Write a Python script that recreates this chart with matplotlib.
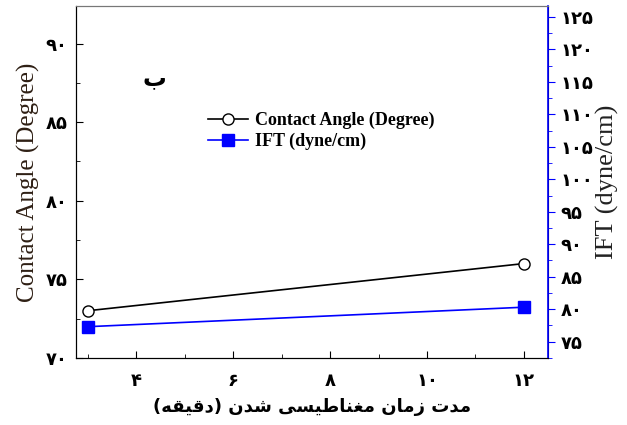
import matplotlib
matplotlib.use("Agg")
import matplotlib.pyplot as plt
from matplotlib.ticker import FixedLocator, FuncFormatter, MultipleLocator

# Data
minutes = [3, 12]
contact_angle = [73.0, 76.0]
ift = [77.3, 80.3]

x_ticks = [4, 6, 8, 10, 12]
left_ticks = [70, 75, 80, 85, 90]
right_ticks = [75, 80, 85, 90, 95, 100, 105, 110, 115, 120, 125]

# Persian label, pre-shaped (presentation forms) in visual order
x_label = ("(\uFEEA\uFED8\uFEF4\uFED7\uFEA9) \uFEE5\uFEAA\uFEB7 "
           "\uFEF0\uFEB4\uFEF4\uFEC3\uFE8E\uFEE8\uFED0\uFEE3 "
           "\uFEE5\uFE8E\uFEE3\uFEAF \uFE95\uFEAA\uFEE3")
panel_letter = "\uFE8F"
legend_labels = ["Contact Angle (Degree)", "IFT (dyne/cm)"]

FA_DIGITS = str.maketrans("0123456789", "۰۱۲۳۴۵۶۷۸۹")


def fa(v, _pos=None):
    return str(int(round(v))).translate(FA_DIGITS)


fig = plt.figure(figsize=(6.27, 4.25), dpi=100)
ax = fig.add_axes([0.121, 0.158, 0.753, 0.828])
ax2 = ax.twinx()

l1, = ax.plot(minutes, contact_angle, "-", color="black", lw=1.2,
              marker="o", ms=8, mfc="white", mec="black", mew=1.0)
l2, = ax2.plot(minutes, ift, "-", color="blue", lw=1.2,
               marker="s", ms=8, mfc="blue", mec="blue")

ax.set_xlim(2.75, 12.5)
ax.set_ylim(70, 92.4)
ax2.set_ylim(72.5, 126.7)

ax.xaxis.set_major_locator(FixedLocator(x_ticks))
ax.xaxis.set_minor_locator(MultipleLocator(1))
ax.yaxis.set_major_locator(FixedLocator(left_ticks))
ax.yaxis.set_minor_locator(MultipleLocator(2.5))
ax2.yaxis.set_major_locator(FixedLocator(right_ticks))
ax2.yaxis.set_minor_locator(MultipleLocator(2.5))
for a in (ax.xaxis, ax.yaxis, ax2.yaxis):
    a.set_major_formatter(FuncFormatter(fa))

tick_font = dict(family="DejaVu Sans", weight="bold", size=13)
for lab in ax.get_xticklabels() + ax.get_yticklabels() + ax2.get_yticklabels():
    lab.set(**tick_font)

ax.tick_params(axis="x", which="major", direction="in", length=5, pad=10)
ax.tick_params(axis="x", which="minor", direction="in", length=3)
ax.tick_params(axis="y", which="major", direction="in", length=5, pad=6)
ax.tick_params(axis="y", which="minor", direction="in", length=3)
ax.tick_params(top=False, right=False)
ax2.tick_params(axis="y", which="major", direction="out", length=5,
                color="blue", pad=4)
ax2.tick_params(axis="y", which="minor", direction="out", length=3,
                color="blue")

ax.spines["top"].set_color("#777777")
ax2.spines["top"].set_color("#777777")
ax2.spines["right"].set_color("blue")
ax2.spines["right"].set_linewidth(1.2)

ax.set_xlabel(x_label, family="DejaVu Sans", weight="bold", fontsize=13,
              labelpad=6)
ax.set_ylabel("Contact Angle (Degree)", family="Liberation Serif",
              fontsize=18, color="#2e1f14", labelpad=4)
ax2.set_ylabel("IFT (dyne/cm)", family="Liberation Serif", fontsize=19,
               color="#222222", labelpad=2)

ax.text(4.38, 87.8, panel_letter, family="DejaVu Sans", weight="bold",
        fontsize=17, ha="center", va="center")

ax.legend([l1, l2], legend_labels, loc="upper left",
          bbox_to_anchor=(0.245, 0.745), frameon=False, handlelength=2.2,
          handletextpad=0.4, labelspacing=0.2,
          prop=dict(family="Liberation Serif", weight="bold", size=13))

fig.savefig("out.png", dpi=100)
